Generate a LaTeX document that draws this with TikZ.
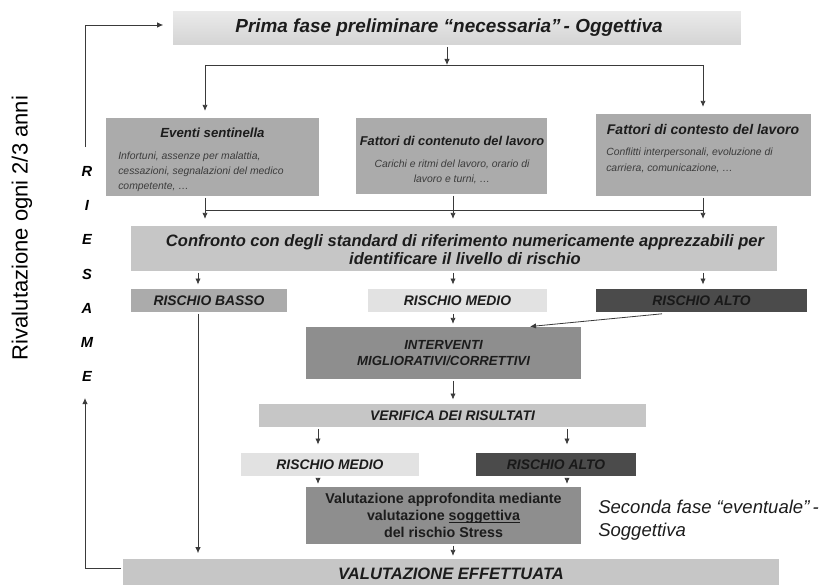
\documentclass[tikz,border=0pt]{standalone}
\usepackage{fontspec}
\setmainfont{Liberation Sans}
\usetikzlibrary{arrows.meta,shadows}
\definecolor{cLight}{HTML}{E2E2E2}
\definecolor{cMid}{HTML}{C6C6C6}
\definecolor{cBox}{HTML}{ABABAB}
\definecolor{cDeep}{HTML}{8E8E8E}
\definecolor{cDark}{HTML}{4B4B4B}
\definecolor{cLine}{HTML}{3A3A3A}
\definecolor{cText}{HTML}{1C1C1C}
\definecolor{cBody}{HTML}{3C3C3C}
\newcommand\myul[1]{\setbox0\hbox{#1}\rlap{\rule[-1.7pt]{\wd0}{0.6pt}}\box0}
\tikzset{
  box/.style={draw=white, line width=1.2pt, inner sep=0pt, text=cText,
    drop shadow={shadow xshift=0.9pt, shadow yshift=-0.9pt, opacity=0.3, fill=black}},
  arr/.style={draw=cLine, line width=0.6pt, -{Latex[length=4.5pt,width=4pt]}},
  ln/.style={draw=cLine, line width=0.6pt},
  body/.style={font=\itshape\fontsize{7.8}{11}\selectfont, text=cBody, inner sep=0pt},
  risk/.style={font=\bfseries\itshape\fontsize{10.4}{12}\selectfont}
}
\begin{document}
\begin{tikzpicture}[x=0.75pt,y={(0,-0.75pt)}]
\useasboundingbox (0,0) rectangle (835,585);
\clip (0,0) rectangle (835,585);

% columns
\coordinate (xA) at (198,0);
\coordinate (xB) at (453,0);
\coordinate (xC) at (703,0);
\coordinate (xD) at (318,0);
\coordinate (xE) at (567,0);
\coordinate (xH) at (662,0);
\coordinate (xI) at (530,0);

% boxes
\node[box, top color=cLight!70!white, bottom color=cLight!85!gray, minimum width=427.5pt, minimum height=27pt,
  font=\bfseries\itshape\fontsize{14.2}{16}\selectfont] (top) at (457,28) {\hspace*{-12pt}Prima fase preliminare “necessaria”\,- Oggettiva};

\node[box, fill=cBox, minimum width=161.25pt, minimum height=60pt] (ev) at (212.5,157) {};
\node[box, fill=cBox, minimum width=144.75pt, minimum height=58.5pt] (cont) at (451.5,156) {};
\node[box, fill=cBox, minimum width=162.75pt, minimum height=63pt] (ctx) at (703.5,155) {};

\node[font=\bfseries\itshape\fontsize{9.9}{11}\selectfont, text=cText, inner sep=0pt] (evT) at (212.5,133) {Eventi sentinella};
\node[body, anchor=north west, align=left] (evB) at (118,152) {Infortuni, assenze per malattia,\\cessazioni, segnalazioni del medico\\competente, …};

\node[font=\bfseries\itshape\fontsize{9.6}{11}\selectfont, text=cText, inner sep=0pt] (contT) at (452,141) {Fattori di contenuto del lavoro};
\node[body, anchor=north, align=center] (contB) at (452,160) {Carichi e ritmi del lavoro, orario di\\lavoro e turni, …};

\node[font=\bfseries\itshape\fontsize{10.5}{11}\selectfont, text=cText, inner sep=0pt] (ctxT) at (703,129) {Fattori di contesto del lavoro};
\node[body, anchor=north west, align=left, font=\itshape\fontsize{7.8}{12}\selectfont] (ctxB) at (606,148) {Conflitti interpersonali, evoluzione di\\carriera, comunicazione, …};

\node[box, fill=cMid, minimum width=486pt, minimum height=35.25pt] (conf) at (454,248.5) {};
\node[align=center, inner sep=0pt, text=cText,
  font=\bfseries\itshape\fontsize{12.4}{13.6}\selectfont] (confT) at (465,250)
  {Confronto con degli standard di riferimento numericamente apprezzabili per\\identificare il livello di rischio};

\node[box, fill=cBox, minimum width=118.5pt, minimum height=18.75pt, risk] (basso) at (209,300.5) {RISCHIO BASSO};
\node[box, fill=cLight, minimum width=135.75pt, minimum height=18.75pt, risk] (medio) at (457.5,300.5) {RISCHIO MEDIO};
\node[box, fill=cDark, minimum width=159.75pt, minimum height=18.75pt, risk, text=black!90] (alto) at (701.5,300.5) {RISCHIO ALTO};

\node[box, fill=cDeep, minimum width=207.75pt, minimum height=40.5pt, align=center,
  font=\bfseries\itshape\fontsize{9.9}{12.5}\selectfont] (interv) at (443.5,353) {INTERVENTI\\MIGLIORATIVI/CORRETTIVI};

\node[box, fill=cMid, minimum width=291.75pt, minimum height=18.75pt, risk] (verif) at (452.5,415.5) {VERIFICA DEI RISULTATI};

\node[box, fill=cLight, minimum width=135pt, minimum height=18.75pt, risk] (medio2) at (330,464.5) {RISCHIO MEDIO};
\node[box, fill=cDark, minimum width=121.5pt, minimum height=18.75pt, risk, text=black!90] (alto2) at (556,464.5) {RISCHIO ALTO};

\node[box, fill=cDeep, minimum width=207.75pt, minimum height=44.25pt, align=center,
  font=\bfseries\fontsize{10.7}{12.75}\selectfont] (valut) at (443.5,515.5)
  {Valutazione approfondita mediante\\valutazione \myul{soggettiva}\\del rischio Stress};

\node[box, fill=cMid, minimum width=493.5pt, minimum height=25.5pt, font=\bfseries\itshape\fontsize{12.4}{14}\selectfont] (eff) at (451,575) {\raisebox{1.5pt}{VALUTAZIONE EFFETTUATA}};

% side texts
\node[rotate=90, font=\fontsize{16.5}{18}\selectfont, text=black, inner sep=0pt] (riv) at (22,228) {Rivalutazione ogni 2/3 anni};
\node[font=\bfseries\itshape\fontsize{11}{25.7}\selectfont, align=center, inner sep=0pt, anchor=north] (ries) at (87,166) {R\\I\\E\\S\\A\\M\\E};
\node[font=\itshape\fontsize{13.9}{17.3}\selectfont, align=left, anchor=north west, inner sep=0pt, text=cText] (sec) at (598,500) {Seconda fase “eventuale”\,-\\Soggettiva};

% connectors: top split
\coordinate (j1) at (447,65);
\coordinate (hL) at (205,65);
\coordinate (hR) at (703,65);
\draw[arr] (top.south -| j1) -- (j1);
\draw[ln] (hL) -- (hR);
\draw[arr] (hL) -- ([yshift=4pt]hL |- ev.north);
\draw[arr] (hR) -- ([yshift=4pt]hR |- ctx.north);

% to confronto
\coordinate (b1) at (205,210);
\coordinate (b2) at (453,210);
\coordinate (b3) at (703,210);
\draw[ln] (b1) -- (b3);
\draw[arr] (ev.south -| b1) -- ([yshift=4pt]b1 |- conf.north);
\draw[arr] (cont.south -| b2) -- ([yshift=4pt]b2 |- conf.north);
\draw[arr] (ctx.south -| b3) -- ([yshift=4pt]b3 |- conf.north);

% confronto to levels
\draw[arr] (conf.south -| xA) -- ([yshift=2pt]basso.north -| xA);
\draw[arr] (conf.south -| xB) -- ([yshift=2pt]medio.north -| xB);
\draw[arr] (conf.south -| xC) -- ([yshift=2pt]alto.north -| xC);

% levels onward
\draw[arr] (basso.south -| xA) -- ([yshift=3pt]eff.north -| xA);
\draw[arr] (medio.south -| xB) -- ([yshift=1pt]interv.north -| xB);
\draw[arr] (alto.south -| xH) -- ([yshift=-1pt]interv.north -| xI);
\draw[arr] (interv.south -| xB) -- ([yshift=2pt]verif.north -| xB);
\draw[arr] (verif.south -| xD) -- ([yshift=5pt]medio2.north -| xD);
\draw[arr] (verif.south -| xE) -- ([yshift=5pt]alto2.north -| xE);
\draw[arr] (medio2.south -| xD) -- ([yshift=1pt]valut.north -| xD);
\draw[arr] (alto2.south -| xE) -- ([yshift=1pt]valut.north -| xE);
\draw[arr] (valut.south -| xB) -- ([yshift=1pt]eff.north -| xB);

% riesame loop
\coordinate (L1) at (85,568);
\coordinate (L2) at (85,398);
\coordinate (L3) at (85,147);
\coordinate (L4) at (85,25);
\draw[arr] (eff.west |- L1) -- (L1) -- (L2);
\draw[arr] (L3) -- (L4) -- ([xshift=-6pt]top.west |- L4);
\end{tikzpicture}
\end{document}
